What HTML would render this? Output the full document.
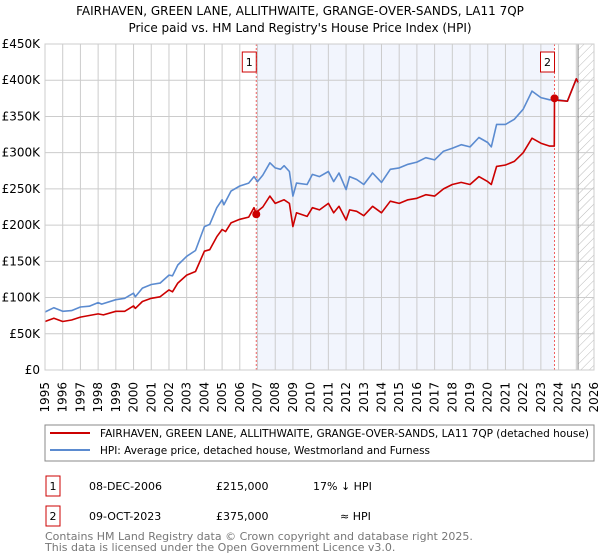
<!DOCTYPE html>
<html><head><meta charset="utf-8"><style>
body{margin:0;background:#fff;font-family:"Liberation Sans","DejaVu Sans",sans-serif;}
svg{display:block}
text{font-family:"DejaVu Sans","Liberation Sans",sans-serif;}
</style></head><body>
<svg id="c" width="600" height="560">
<defs><pattern id="hatch" width="6" height="6" patternUnits="userSpaceOnUse" patternTransform="rotate(45)"><line x1="0" y1="0" x2="0" y2="6" stroke="#bbb" stroke-width="1"/></pattern></defs>
<text x="300" y="15" text-anchor="middle" font-size="12">FAIRHAVEN, GREEN LANE, ALLITHWAITE, GRANGE-OVER-SANDS, LA11 7QP</text>
<text x="300" y="32" text-anchor="middle" font-size="12">Price paid vs. HM Land Registry's House Price Index (HPI)</text>
<g id="plot"></g>
<rect x="45" y="425" width="549" height="36" fill="#fff" stroke="#888"/>
<line x1="50" y1="433" x2="90" y2="433" stroke="#cc0000" stroke-width="2"/>
<text x="100" y="437" font-size="11" textLength="489" lengthAdjust="spacingAndGlyphs">FAIRHAVEN, GREEN LANE, ALLITHWAITE, GRANGE-OVER-SANDS, LA11 7QP (detached house)</text>
<line x1="50" y1="450" x2="90" y2="450" stroke="#5b8bd0" stroke-width="2"/>
<text x="100" y="454" font-size="11" textLength="330" lengthAdjust="spacingAndGlyphs">HPI: Average price, detached house, Westmorland and Furness</text>
<g>
<rect x="46" y="476" width="14" height="20" fill="#fff" stroke="#cc0000"/>
<text x="53" y="490" font-size="11" text-anchor="middle">1</text>
<text x="89" y="490" font-size="11">08-DEC-2006</text>
<text x="216" y="490" font-size="11">£215,000</text>
<text x="313" y="490" font-size="11">17% ↓ HPI</text></g>
<g>
<rect x="46" y="506" width="14" height="20" fill="#fff" stroke="#cc0000"/>
<text x="53" y="520" font-size="11" text-anchor="middle">2</text>
<text x="89" y="520" font-size="11">09-OCT-2023</text>
<text x="216" y="520" font-size="11">£375,000</text>
<text x="340" y="520" font-size="11">≈ HPI</text></g>
<text x="45" y="540" font-size="11" fill="#777">Contains HM Land Registry data © Crown copyright and database right 2025.</text>
<text x="45" y="551" font-size="11" fill="#777">This data is licensed under the Open Government Licence v3.0.</text>
</svg>
<script>
const hpiYears=[1995,1995.5,1996,1996.5,1997,1997.5,1998,1998.2,1999,1999.5,2000,2000.1,2000.5,2001,2001.5,2002,2002.2,2002.5,2003,2003.5,2004,2004.3,2004.7,2005,2005.1,2005.5,2006,2006.5,2006.8,2007,2007.3,2007.7,2008,2008.3,2008.5,2008.8,2009,2009.2,2009.8,2010.1,2010.5,2011,2011.3,2011.6,2012,2012.2,2012.6,2013,2013.5,2014,2014.5,2015,2015.5,2016,2016.5,2017,2017.5,2018,2018.5,2019,2019.5,2020,2020.2,2020.5,2021,2021.5,2022,2022.5,2023,2023.5,2024,2024.5,2025,2025.1];
const hpiValues=[80,86,81,82,87,88,93,91,97,99,106,101,113,118,120,131,130,145,157,165,198,201,224,235,228,247,254,258,267,260,269,286,279,277,282,274,240,258,256,270,267,274,260,272,249,267,263,256,272,259,277,279,284,287,293,290,302,306,311,308,321,314,308,339,339,346,360,385,376,373,373,371,402,397];
const priceYears=[1995,1995.5,1996,1996.5,1997,1998,1998.3,1999,1999.5,2000,2000.1,2000.5,2001,2001.5,2002,2002.2,2002.5,2003,2003.5,2004,2004.3,2004.7,2005,2005.2,2005.5,2006,2006.5,2006.8,2006.93,2007,2007.3,2007.7,2008,2008.5,2008.8,2009,2009.2,2009.8,2010.1,2010.5,2011,2011.3,2011.6,2012,2012.2,2012.6,2013,2013.5,2014,2014.5,2015,2015.5,2016,2016.5,2017,2017.5,2018,2018.5,2019,2019.5,2020,2020.2,2020.5,2021,2021.5,2022,2022.5,2023,2023.5,2023.76,2023.77,2024,2024.5,2025,2025.1];
const priceValues=[67,71.5,67,69,73,77.5,76,81,81,88.5,85,94.5,99,101,110.5,108,120,131,136,164,166,184,194,191,203,208,211,224,215,219,225,240,230,235,230,198,217,212,224,221,230,217,226,207,221,219,213,226,217,233,230,235,237,242,240,250,256,259,256,267,260,256,281,283,288,300,320,313,309,309,375,372,371,402,397];
const saleYears=[2006.93,2023.77];
const saleValues=[215,375];
const yTicks=[0,50,100,150,200,250,300,350,400,450];
const yTickLabels=["£0","£50K","£100K","£150K","£200K","£250K","£300K","£350K","£400K","£450K"];
const xTicks=[1995,1996,1997,1998,1999,2000,2001,2002,2003,2004,2005,2006,2007,2008,2009,2010,2011,2012,2013,2014,2015,2016,2017,2018,2019,2020,2021,2022,2023,2024,2025,2026];
const dataEnd=2025.1;

const NS="http://www.w3.org/2000/svg";
const L=45,R=594,T=44,B=370;
const xs=y=>L+(y-1995)/(2026-1995)*(R-L);
const ys=v=>B-v/450*(B-T);
const g=document.getElementById('plot');
function mk(tag,attrs,parent){const e=document.createElementNS(NS,tag);for(const k in attrs)e.setAttribute(k,attrs[k]);(parent||g).appendChild(e);return e;}
let e;
e=mk('rect',{x:xs(saleYears[0]),y:T,width:xs(saleYears[1])-xs(saleYears[0]),height:B-T,fill:'#f2f5fd'});


e=mk('rect',{x:xs(dataEnd),y:T,width:R-xs(dataEnd),height:B-T,fill:'url(#hatch)'});


xTicks.forEach((t,i)=>{
 e=mk('line',{x1:xs(t),x2:xs(t),y1:T,y2:B,stroke:'#ccc','stroke-width':1});
 
 
 e=mk('text',{x:0,y:0,'font-size':12,'text-anchor':'end',transform:`translate(${xs(t)+4},382) rotate(-90)`});
 e.textContent=t;
 
 
});
yTicks.forEach((t,i)=>{
 e=mk('line',{x1:L,x2:R,y1:ys(t),y2:ys(t),stroke:'#ccc','stroke-width':1});
 
 
 e=mk('text',{x:40,y:ys(t)+4,'font-size':12,'text-anchor':'end'});
 e.textContent=yTickLabels[i];
 
 
});
e=mk('line',{x1:xs(dataEnd),x2:xs(dataEnd),y1:T,y2:B,stroke:'#888','stroke-width':1});


saleYears.forEach((s,i)=>{
 e=mk('line',{x1:xs(s),x2:xs(s),y1:T,y2:B,stroke:'#f06060','stroke-width':1,'stroke-dasharray':'2,2'});
 
 
});
function path(xa,va,color,name){
 const d=xa.map((x,i)=>(i?'L':'M')+xs(x).toFixed(1)+','+ys(va[i]).toFixed(1)).join('');
 e=mk('path',{d:d,fill:'none',stroke:color,'stroke-width':1.6,'stroke-linejoin':'round'});
 
 
}
path(hpiYears,hpiValues,'#5b8bd0','hpi-line');
path(priceYears,priceValues,'#cc0000','price-paid-line');
saleYears.forEach((s,i)=>{
 e=mk('circle',{cx:xs(s),cy:ys(saleValues[i]),r:4,fill:'#cc0000'});
 
 
 e=mk('rect',{x:xs(s)-14,y:52,width:14,height:20,fill:'#fff',stroke:'#cc0000'});
 
 
 e=mk('text',{x:xs(s)-7,y:66,'font-size':11,'text-anchor':'middle'});
 e.textContent=String(i+1);
 
 
});
e=mk('rect',{x:L,y:T,width:R-L,height:B-T,fill:'none',stroke:'#ccc'});


</script>
</body></html>
